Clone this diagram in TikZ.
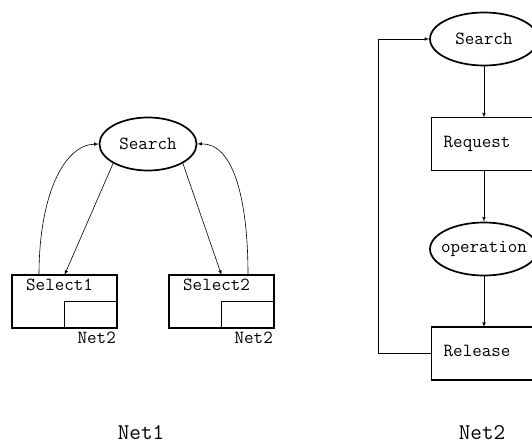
\documentclass[tikz,border=0pt]{standalone}
\usetikzlibrary{arrows,shapes,positioning}

\tikzset{
  oval/.style={ellipse,draw,line width=1.7pt,inner sep=0pt,minimum height=53pt,
    font=\ttfamily\fontsize{18.5}{20}\selectfont},
  netbox/.style={rectangle,draw,line width=1.7pt,minimum width=105pt,minimum height=53pt,
    inner sep=0pt,outer sep=0pt},
  lbl/.style={inner sep=0pt,font=\ttfamily\fontsize{18.5}{20}\selectfont},
  title/.style={inner sep=0pt,font=\ttfamily\fontsize{22.5}{24}\selectfont},
  conn/.style={->,>=latex,line width=0.6pt},
}

\begin{document}
\begin{tikzpicture}[x=1pt,y=-1pt]
  \useasboundingbox (0,0) rectangle (532,447); %Fix the page size

  \node[oval,minimum width=97pt] (search1) at (148,144) {Search}; %Top state of Net1
  \node[netbox] (sel1) at (64.5,301.5) {}; %Left box
  \node[netbox] (sel2) at (221.5,301.5) {}; %Right box
  \draw[line width=1.7pt] (sel1.center) rectangle (sel1.south east); %Inner box left
  \draw[line width=1.7pt] (sel2.center) rectangle (sel2.south east); %Inner box right
  \node[lbl,below right=4pt and 14pt of sel1.north west] (sel1txt) {Select1}; %Annotation left box
  \node[lbl,below right=4pt and 14pt of sel2.north west] (sel2txt) {Select2}; %Annotation right box
  \node[lbl,below left=4pt and 1pt of sel1.south east] (sub1) {Net2}; %Annotation inner box left
  \node[lbl,below left=4pt and 1pt of sel2.south east] (sub2) {Net2}; %Annotation inner box right

  \draw[conn] (search1.south west) -- (sel1.north); %Search to Select1
  \draw[conn] (search1.south east) -- (sel2.north); %Search to Select2
  \draw[conn] ([xshift=27pt]sel1.north west) .. controls (39,195) and (64,145) .. (search1.west); %Back from Select1
  \draw[conn] ([xshift=-26pt]sel2.north east) .. controls (248,195) and (232,143) .. (search1.east); %Back from Select2

  \node[oval,minimum width=108pt] (search2) at (484,39) {Search}; %Top state of Net2
  \node[netbox] (req) at (484,144) {}; %Request box
  \node[oval,minimum width=108pt] (oper) at (484,249) {\makebox[0pt]{operation}}; %Operation state
  \node[netbox] (rel) at (484,353.5) {}; %Release box
  \node[lbl,right=12pt of req.west] (reqtxt) {Request}; %Annotation request
  \node[lbl,right=12pt of rel.west,yshift=3pt] (reltxt) {Release}; %Annotation release

  \draw[conn] (search2) -- (req); %Search to Request
  \draw[conn] (req) -- (oper); %Request to operation
  \draw[conn] (oper) -- (rel); %operation to Release
  \draw[conn] (rel.west) -- ++(-53,0) |- (search2.west); %Loop back to Search

  \node[title] (net1) at (141,433) {Net1}; %Caption left
  \node[title] (net2) at (482,433) {Net2}; %Caption right
\end{tikzpicture}
\end{document}
